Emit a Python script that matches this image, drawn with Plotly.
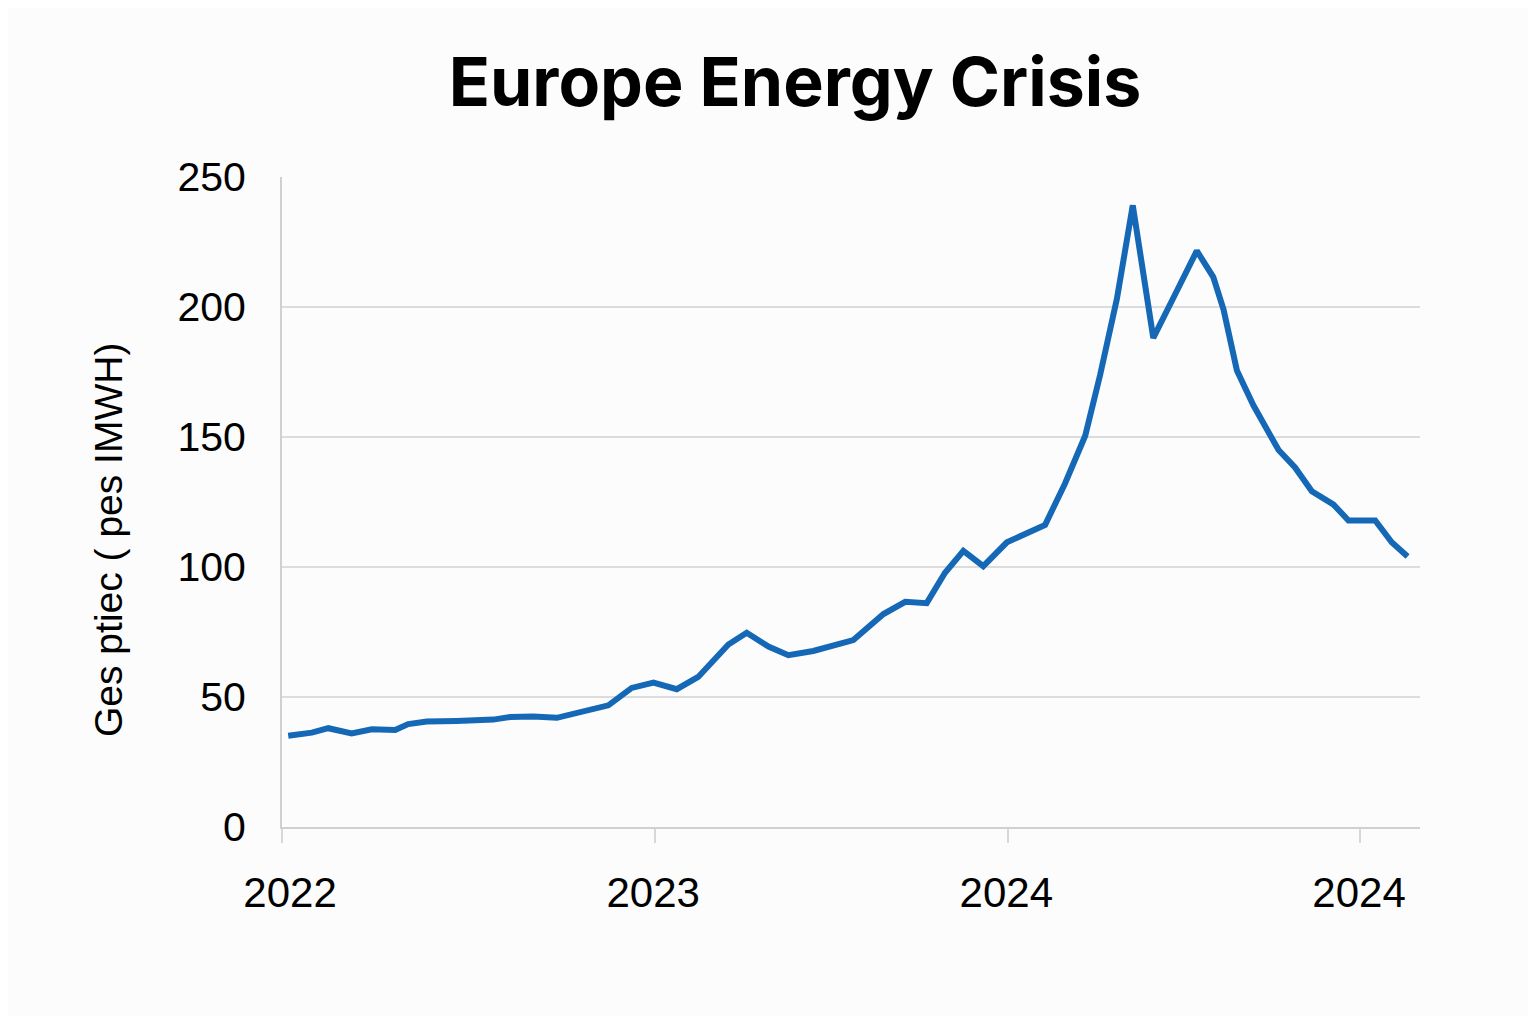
import plotly.graph_objects as go

# x positions in months since start of 2022 (tick positions irregular as in source)
months = [0.20, 0.96, 1.49, 2.24, 2.89, 3.64, 4.06, 4.66, 5.62, 6.80, 7.34, 8.09,
          8.84, 9.69, 10.50, 11.25, 11.95, 12.70, 13.39, 14.36, 14.95, 15.65, 16.29,
          17.09, 18.38, 19.35, 20.05, 20.74, 21.33, 21.92, 22.56, 23.32, 24.07, 24.55,
          25.19, 25.84, 26.32, 26.86, 27.37, 28.03, 28.73, 29.43, 29.96, 30.29, 30.72,
          31.25, 32.06, 32.59, 33.13, 33.82, 34.31, 35.17, 35.70, 36.21]
price = [35.1, 36.3, 38.0, 36.0, 37.6, 37.3, 39.6, 40.6, 40.8, 41.3, 42.3, 42.5,
         42.0, 44.3, 46.8, 53.5, 55.5, 53.0, 57.7, 70.2, 74.7, 69.4, 66.1,
         67.7, 71.9, 81.9, 86.6, 86.1, 97.8, 106.2, 100.3, 109.5, 113.7, 116.2,
         132.1, 150.5, 173.9, 203.2, 239.1, 188.1, 204.8, 221.6, 211.5, 199.0, 175.6,
         162.2, 145.0, 138.3, 129.1, 124.1, 117.9, 117.9, 109.5, 104.0]

x_tick_marks = [0, 12, 23.36, 34.68]
x_label_pos = [0.26, 11.94, 23.30, 34.65]
x_tick_text = ["2022", "2023", "2024", "2024"]
y_tick_vals = [0, 50, 100, 150, 200, 250]

title_text = "Europe Energy Crisis"
y_label = "Ges ptiec ( pes IMWH)"

W, H = 1520, 1008
L, T = 274, 169
PW, PH = 1138, 650

fig = go.Figure()
fig.add_trace(go.Scatter(
    x=months, y=price, mode="lines",
    line=dict(color="#1468b6", width=6),
    hoverinfo="skip", showlegend=False,
))

fig.update_layout(
    width=W, height=H,
    paper_bgcolor="#fcfcfc", plot_bgcolor="#fcfcfc",
    margin=dict(l=L, r=W - L - PW, t=T, b=H - T - PH),
    title=dict(text=title_text, x=787 / W, xanchor="center", y=1 - 74 / H,
               yanchor="middle", yref="container",
               font=dict(family="Inter", size=68, color="#000000", weight="bold")),
    showlegend=False,
)

fig.update_xaxes(
    range=[0, 36.61], tickmode="array", tickvals=x_label_pos, ticktext=x_tick_text,
    showgrid=False, zeroline=False, showline=True, linecolor="#d0d0d0", linewidth=2,
    ticks="", ticklen=14,
    minor=dict(tickvals=x_tick_marks, ticks="outside", ticklen=14,
               tickcolor="#d8d8d8", tickwidth=1.5, showgrid=False),
    tickfont=dict(family="Liberation Sans", size=42, color="#000000"),
    ticklabelstandoff=28,
)
fig.update_yaxes(
    range=[0, 250], tickmode="array", tickvals=y_tick_vals,
    showgrid=True, gridcolor="#dcdcdc", gridwidth=1.5, zeroline=False,
    showline=True, linecolor="#d0d0d0", linewidth=2, ticks="",
    tickfont=dict(family="Liberation Sans", size=41, color="#000000"),
    ticklabelstandoff=26,
)

fig.add_annotation(
    text=y_label, xref="paper", yref="paper",
    x=(108 - 282) / PW, y=(827 - 540) / PH,
    xanchor="center", yanchor="middle", textangle=-90, showarrow=False,
    font=dict(family="Liberation Sans", size=39, color="#000000"),
)

fig.write_html("out.html")
